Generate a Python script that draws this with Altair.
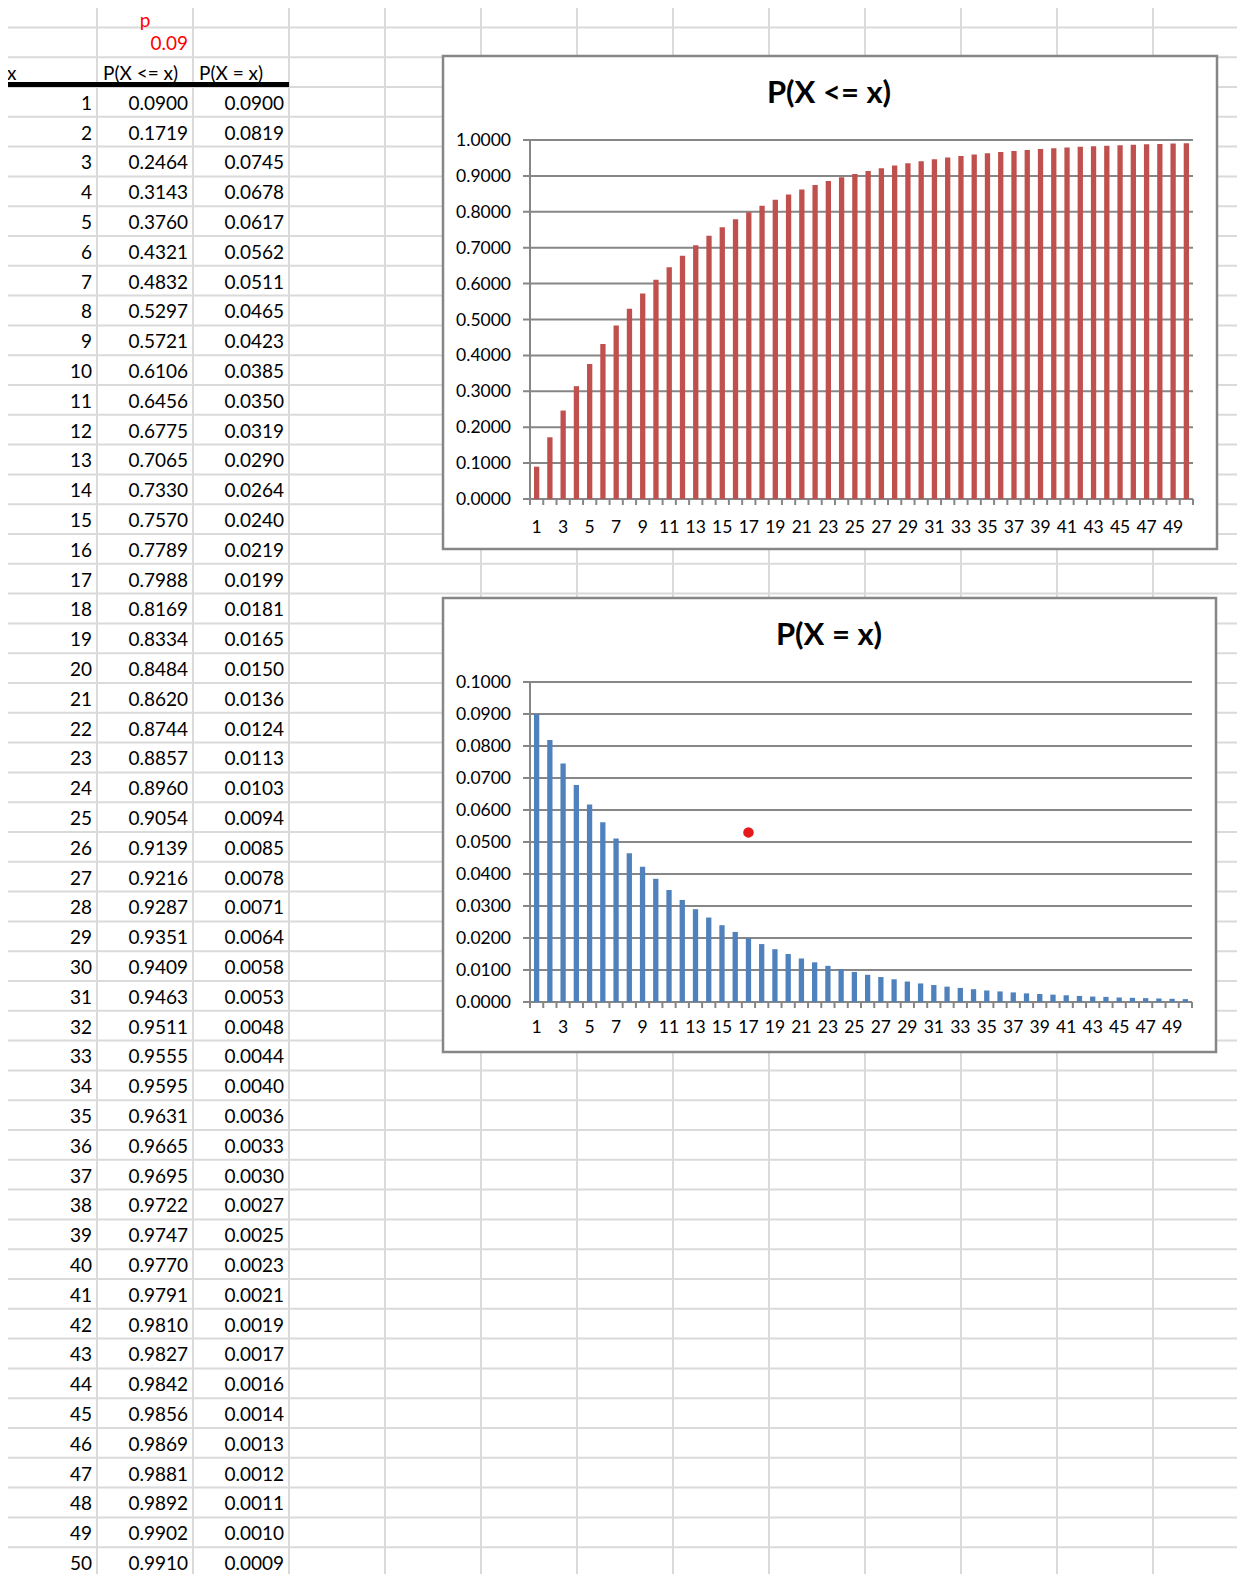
import altair as alt
import pandas as pd

# ---------------------------------------------------------------------------
# Sheet values
# ---------------------------------------------------------------------------

P_LABEL = "p"
P_VALUE = "0.09"
HEADERS = ["x", "P(X <= x)", "P(X = x)"]

X_VALUES = list(range(1, 51))
CDF = [0.0900, 0.1719, 0.2464, 0.3143, 0.3760, 0.4321, 0.4832, 0.5297, 0.5721, 0.6106,
       0.6456, 0.6775, 0.7065, 0.7330, 0.7570, 0.7789, 0.7988, 0.8169, 0.8334, 0.8484,
       0.8620, 0.8744, 0.8857, 0.8960, 0.9054, 0.9139, 0.9216, 0.9287, 0.9351, 0.9409,
       0.9463, 0.9511, 0.9555, 0.9595, 0.9631, 0.9665, 0.9695, 0.9722, 0.9747, 0.9770,
       0.9791, 0.9810, 0.9827, 0.9842, 0.9856, 0.9869, 0.9881, 0.9892, 0.9902, 0.9910]
PMF = [0.0900, 0.0819, 0.0745, 0.0678, 0.0617, 0.0562, 0.0511, 0.0465, 0.0423, 0.0385,
       0.0350, 0.0319, 0.0290, 0.0264, 0.0240, 0.0219, 0.0199, 0.0181, 0.0165, 0.0150,
       0.0136, 0.0124, 0.0113, 0.0103, 0.0094, 0.0085, 0.0078, 0.0071, 0.0064, 0.0058,
       0.0053, 0.0048, 0.0044, 0.0040, 0.0036, 0.0033, 0.0030, 0.0027, 0.0025, 0.0023,
       0.0021, 0.0019, 0.0017, 0.0016, 0.0014, 0.0013, 0.0012, 0.0011, 0.0010, 0.0009]

CDF_TITLE = "P(X <= x)"
PMF_TITLE = "P(X = x)"
CDF_TICKS = [0.0, 0.1, 0.2, 0.3, 0.4, 0.5, 0.6, 0.7, 0.8, 0.9, 1.0]
PMF_TICKS = [0.0, 0.01, 0.02, 0.03, 0.04, 0.05, 0.06, 0.07, 0.08, 0.09, 0.1]
X_TICK_LABELS = [1, 3, 5, 7, 9, 11, 13, 15, 17, 19, 21, 23, 25, 27, 29, 31, 33, 35, 37, 39,
                 41, 43, 45, 47, 49]

# stray marker sitting on the P(X = x) chart
MARKER_X = [17]
MARKER_Y = [0.053]

# ---------------------------------------------------------------------------
# Look
# ---------------------------------------------------------------------------

FONT = "Lato"
W, H = 1229, 1566
SHIFT = 8  # page margin; the layout below is measured on the sheet itself
GRID = "#dadada"
AXIS_GRAY = "#868686"
RED_BAR = "#C0504D"
BLUE_BAR = "#4F81BD"
ROW_H = 29.8
COL_W = 96


def px(v):
    return v - SHIFT


# sheet coordinates: x in columns, y in rows (row r ends at y = r)
SHEET_X = alt.Scale(domain=[0, 13], range=[px(1), px(1 + COL_W * 13)], nice=False, zero=False)
SHEET_Y = alt.Scale(domain=[-3, 50], range=[px(87 - 3 * ROW_H), px(87 + 50 * ROW_H)],
                    nice=False, zero=False)


def sheet_layer():
    vlines = pd.DataFrame({"c": list(range(1, 14)), "b0": -3, "b1": 50})
    hlines = pd.DataFrame({"b": list(range(-2, 51)), "c0": 0, "c1": 13})

    v = alt.Chart(vlines).mark_rule(color=GRID, strokeWidth=2).encode(
        x=alt.X("c:Q", scale=SHEET_X, axis=None),
        y=alt.Y("b0:Q", scale=SHEET_Y, axis=None),
        y2="b1:Q",
    )
    h = alt.Chart(hlines).mark_rule(color=GRID, strokeWidth=2).encode(
        x=alt.X("c0:Q", scale=SHEET_X, axis=None),
        x2="c1:Q",
        y=alt.Y("b:Q", scale=SHEET_Y, axis=None),
    )
    thick = alt.Chart(pd.DataFrame({"c0": [0.02], "c1": [3], "b0": [-0.17], "b1": [0]})).mark_rect(
        color="black"
    ).encode(
        x=alt.X("c0:Q", scale=SHEET_X, axis=None), x2="c1:Q",
        y=alt.Y("b0:Q", scale=SHEET_Y, axis=None), y2="b1:Q",
    )

    right_rows = [{"edge": 2, "b": -1, "t": P_VALUE, "col": "#FF0000"}]
    for i, x in enumerate(X_VALUES):
        right_rows.append({"edge": 1, "b": x, "t": str(x), "col": "#000000"})
        right_rows.append({"edge": 2, "b": x, "t": f"{CDF[i]:.4f}", "col": "#000000"})
        right_rows.append({"edge": 3, "b": x, "t": f"{PMF[i]:.4f}", "col": "#000000"})
    right = alt.Chart(pd.DataFrame(right_rows)).mark_text(
        align="right", baseline="alphabetic", dx=-5, dy=-7, font=FONT, fontSize=19
    ).encode(
        x=alt.X("edge:Q", scale=SHEET_X, axis=None),
        y=alt.Y("b:Q", scale=SHEET_Y, axis=None),
        text="t:N",
        color=alt.Color("col:N", scale=None),
    )

    left = alt.Chart(pd.DataFrame({"c": [0, 1, 2], "b": [0, 0, 0], "t": HEADERS})).mark_text(
        align="left", baseline="alphabetic", dx=6, dy=-7, font=FONT, fontSize=19, color="black"
    ).encode(
        x=alt.X("c:Q", scale=SHEET_X, axis=None),
        y=alt.Y("b:Q", scale=SHEET_Y, axis=None),
        text="t:N",
    )

    # the "p" label sits in the top row, right under the cut edge of the sheet
    center = alt.Chart(pd.DataFrame({"c": [1.5], "b": [-2], "t": [P_LABEL]})).mark_text(
        align="center", baseline="alphabetic", dy=0, font=FONT, fontSize=19, color="#FF0000"
    ).encode(
        x=alt.X("c:Q", scale=SHEET_X, axis=None),
        y=alt.Y("b:Q", scale=SHEET_Y, axis=None),
        text="t:N",
    )

    return alt.layer(v, h, thick, right, left, center)


def bar_panel(values, ticks, color, title, frame, plot_x, plot_y, title_y, label_dy, marker=None):
    """Excel-like column chart drawn inside a framed box on the sheet."""
    x_rng = [px(plot_x[0]), px(plot_x[1])]
    y_rng = [px(plot_y[0]), px(plot_y[1])]
    step = (x_rng[1] - x_rng[0]) / len(X_VALUES)
    half_gap = step * 0.6 / 2

    xs = alt.Scale(domain=X_VALUES, range=x_rng, paddingInner=0.6, paddingOuter=0.3)
    ys = alt.Scale(domain=[ticks[0], ticks[-1]], range=y_rng, nice=False, zero=False)

    box = alt.Chart(pd.DataFrame({"k": [0]})).mark_rect(
        fill="white", stroke=AXIS_GRAY, strokeWidth=2.5
    ).encode(
        x=alt.value(px(frame[0])), x2=alt.value(px(frame[2])),
        y=alt.value(px(frame[1])), y2=alt.value(px(frame[3])),
    )

    tick_df = pd.DataFrame({"v": ticks, "lbl": [f"{t:.4f}" for t in ticks]})
    # horizontal gridlines, running 7px past the axis as the y ticks
    grid = alt.Chart(tick_df).mark_rule(color=AXIS_GRAY, strokeWidth=2).encode(
        y=alt.Y("v:Q", scale=ys, axis=None),
        x=alt.value(x_rng[0] - 7), x2=alt.value(x_rng[1]),
    )
    y_labels = alt.Chart(tick_df).mark_text(
        align="right", baseline="alphabetic", dy=6, font=FONT, fontSize=17.5, color="black"
    ).encode(
        y=alt.Y("v:Q", scale=ys, axis=None),
        x=alt.value(x_rng[0] - 19),
        text="lbl:N",
    )
    y_domain = alt.Chart(pd.DataFrame({"lo": [ticks[0]], "hi": [ticks[-1]]})).mark_rule(
        color=AXIS_GRAY, strokeWidth=2
    ).encode(
        y=alt.Y("lo:Q", scale=ys, axis=None), y2="hi:Q",
        x=alt.value(x_rng[0]),
    )

    bars = alt.Chart(pd.DataFrame({"x": X_VALUES, "v": values})).mark_bar(color=color).encode(
        x=alt.X("x:O", scale=xs, axis=None),
        y=alt.Y("v:Q", scale=ys, axis=None),
    )

    # category ticks sit in the gaps between the columns
    cat_df = pd.DataFrame({"x": X_VALUES, "zero": ticks[0]})
    x_ticks = alt.Chart(cat_df).mark_rule(
        color=AXIS_GRAY, strokeWidth=2, xOffset=-half_gap
    ).encode(
        x=alt.X("x:O", scale=xs, axis=None, bandPosition=0),
        y=alt.Y("zero:Q", scale=ys, axis=None),
        y2=alt.value(y_rng[0] + 6),
    )
    end_tick = alt.Chart(cat_df.tail(1)).mark_rule(
        color=AXIS_GRAY, strokeWidth=2, xOffset=half_gap
    ).encode(
        x=alt.X("x:O", scale=xs, axis=None, bandPosition=1),
        y=alt.Y("zero:Q", scale=ys, axis=None),
        y2=alt.value(y_rng[0] + 6),
    )
    x_labels = alt.Chart(pd.DataFrame({"x": X_TICK_LABELS, "zero": ticks[0]})).mark_text(
        align="center", baseline="alphabetic", dy=label_dy, font=FONT, fontSize=17.5,
        color="black",
    ).encode(
        x=alt.X("x:O", scale=xs, axis=None),
        y=alt.Y("zero:Q", scale=ys, axis=None),
        text="x:N",
    )

    head = alt.Chart(pd.DataFrame({"t": [title]})).mark_text(
        font=FONT, fontSize=31, fontWeight="bold", align="center", baseline="alphabetic",
        color="black",
    ).encode(
        x=alt.value(px(829)), y=alt.value(px(title_y)), text="t:N",
    )
    layers = [box, grid, bars, y_domain, x_ticks, end_tick, y_labels, x_labels, head]
    if marker is not None:
        dot = alt.Chart(pd.DataFrame({"x": marker[0], "v": marker[1]})).mark_circle(
            color="#E31A1C", size=110, opacity=1
        ).encode(
            x=alt.X("x:O", scale=xs, axis=None),
            y=alt.Y("v:Q", scale=ys, axis=None),
        )
        layers.append(dot)
    return alt.layer(*layers)


cdf_chart = bar_panel(
    CDF, CDF_TICKS, RED_BAR, CDF_TITLE,
    frame=(443, 56, 1217, 549), plot_x=(530, 1193), plot_y=(499, 140),
    title_y=103, label_dy=34,
)
pmf_chart = bar_panel(
    PMF, PMF_TICKS, BLUE_BAR, PMF_TITLE,
    frame=(443, 598, 1216, 1052), plot_x=(530, 1192), plot_y=(1002, 682),
    title_y=645, label_dy=31, marker=(MARKER_X, MARKER_Y),
)

chart = (
    alt.layer(sheet_layer(), cdf_chart, pmf_chart)
    .resolve_scale(x="independent", y="independent")
    .properties(width=W, height=H, padding=0, autosize=alt.AutoSizeParams(type="none"))
    .configure(font=FONT, background="white")
    .configure_view(stroke=None)
)

chart.save("out.html", embed_options={"renderer": "svg", "actions": False})
